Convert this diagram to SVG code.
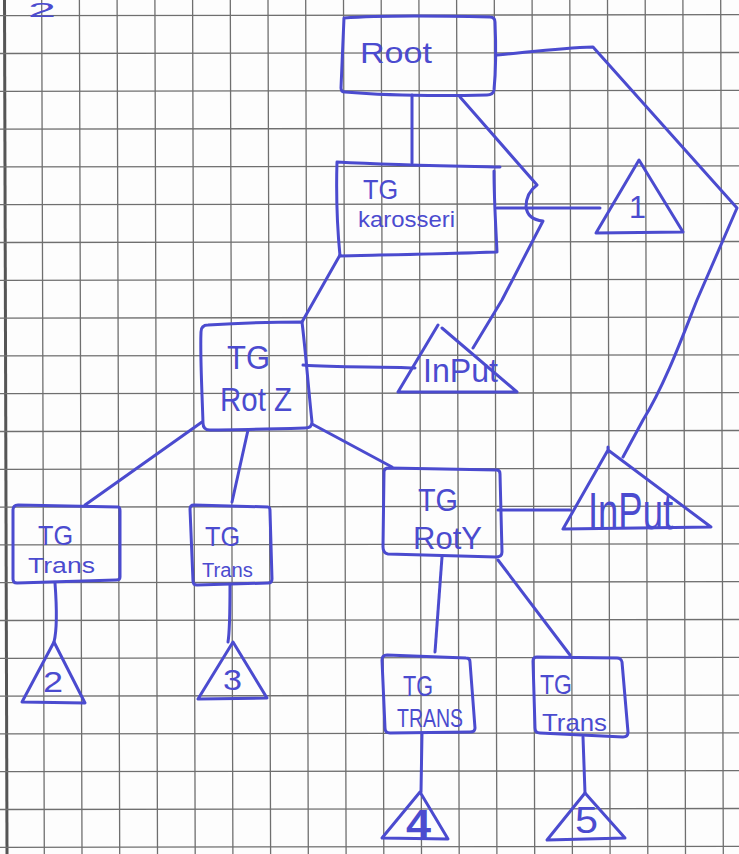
<svg xmlns="http://www.w3.org/2000/svg" width="739" height="854" viewBox="0 0 739 854">
<style>
.g{stroke:#6f6f6f;stroke-width:1.3;fill:none}
.ink{stroke:#4b4bcf;stroke-width:3;fill:none;stroke-linejoin:round;stroke-linecap:round}
.t{fill:#4b4bcf;font-family:"Liberation Sans","DejaVu Sans",sans-serif}
</style>
<rect width="739" height="854" fill="#fdfdfd"/>
<g id="grid">
<line x1="4.5" y1="0" x2="7" y2="854" stroke="#555" stroke-width="3"/>
<path class="g" d="M41.7,0L44.3,854M79.4,0L82,854M117.1,0L119.7,854M154.9,0L157.5,854M192.6,0L195.2,854M230.3,0L232.9,854M268,0L270.6,854M305.7,0L308.3,854M343.5,0L346.1,854M381.2,0L383.8,854M418.9,0L421.5,854M456.6,0L459.2,854M494.3,0L496.9,854M532.1,0L534.7,854M569.8,0L572.4,854M607.5,0L610.1,854M645.2,0L647.8,854M682.9,0L685.5,854M720.7,0L723.3,854"/>
<path class="g" d="M0,15.7L739,14.7M0,53.5L739,52.5M0,91.3L739,90.3M0,129.1L739,128.1M0,166.9L739,165.9M0,204.7L739,203.7M0,242.5L739,241.5M0,280.3L739,279.3M0,318.1L739,317.1M0,355.9L739,354.9M0,393.7L739,392.7M0,431.5L739,430.5M0,469.3L739,468.3M0,507.1L739,506.1M0,544.9L739,543.9M0,582.7L739,581.7M0,620.5L739,619.5M0,658.3L739,657.3M0,696.1L739,695.1M0,733.9L739,732.9M0,771.7L739,770.7M0,809.5L739,808.5M0,847.3L739,846.3"/>
</g>
<text class="t" x="28" y="17" font-size="20" textLength="28" lengthAdjust="spacingAndGlyphs">2</text>
<g id="connectors" class="ink">
<path d="M412,95 L412,163"/>
<path d="M497,55 C530,52 560,48 593,47 L737,208 L697,300 C685,330 665,385 643,420 L623,457"/>
<path d="M460,97 L537,185 C530,190 526,198 526,207 C527,215 533,220 543,221 L502,300 L473,348"/>
<path d="M497,208 L600,208"/>
<path d="M340,255 L302,322"/>
<path d="M303,365 C340,368 380,366 415,368"/>
<path d="M202,422 L85,505"/>
<path d="M248,430 L232,502"/>
<path d="M312,424 L392,467"/>
<path d="M498,510 L570,510"/>
<path d="M442,557 L435,652"/>
<path d="M498,560 L570,655"/>
<path d="M55,583 C57,610 57,630 54,642"/>
<path d="M230,585 C230,610 230,630 228,642"/>
<path d="M422,733 L421,792"/>
<path d="M583,737 L585,793"/>
</g>
<g id="root">
<path class="ink" d="M344,18 C380,15 450,16 490,17 Q495,17 495,22 C496,45 496,70 494,90 Q493,95 487,95 C440,96 380,95 345,92 Q341,92 341,88 C342,65 343,40 344,18 Z"/>
<text class="t" x="360" y="63" font-size="30" textLength="72" lengthAdjust="spacingAndGlyphs">Root</text>
</g>
<g id="tg-karosseri">
<path class="ink" d="M337,162 C390,165 450,166 500,167 M494,171 C494,200 496,230 497,252 C440,254 380,255 340,256 C337,225 336,195 337,162"/>
<text class="t" x="363" y="199" font-size="28" textLength="35" lengthAdjust="spacingAndGlyphs">TG</text>
<text class="t" x="358" y="227" font-size="22" textLength="97" lengthAdjust="spacingAndGlyphs">karosseri</text>
</g>
<g id="tri-1">
<path class="ink" d="M639,160 L596,233 L683,232 Z"/>
<text class="t" x="629" y="218" font-size="32" textLength="17" lengthAdjust="spacingAndGlyphs">1</text>
</g>
<g id="tg-rotz">
<path class="ink" d="M208,325 C240,323 275,322 302,322 C306,355 309,395 312,422 Q312,428 305,428 C270,429 235,430 210,430 Q203,430 203,423 C202,390 200,355 201,332 Q201,325 208,325 Z"/>
<text class="t" x="227" y="369" font-size="34" textLength="43" lengthAdjust="spacingAndGlyphs">TG</text>
<text class="t" x="220" y="411" font-size="34" textLength="72" lengthAdjust="spacingAndGlyphs">Rot Z</text>
</g>
<g id="input-1">
<path class="ink" d="M438,325 L398,392 L517,392 M442,328 L517,392"/>
<text class="t" x="423" y="382" font-size="34" textLength="75" lengthAdjust="spacingAndGlyphs">InPut</text>
</g>
<g id="tg-trans-1">
<path class="ink" d="M18,505 L118,507 Q120,507 120,511 L120,577 Q120,580 116,580 L17,583 Q13,583 13,579 L13,510 Q13,505 18,505 Z"/>
<text class="t" x="38" y="545" font-size="28" textLength="35" lengthAdjust="spacingAndGlyphs">TG</text>
<text class="t" x="28" y="573" font-size="22" textLength="67" lengthAdjust="spacingAndGlyphs">Trans</text>
</g>
<g id="tg-trans-2">
<path class="ink" d="M194,505 L268,507 Q270,507 270,511 L272,579 Q272,583 268,583 L197,585 Q193,585 193,581 L190,509 Q190,505 194,505 Z"/>
<text class="t" x="205" y="546" font-size="28" textLength="35" lengthAdjust="spacingAndGlyphs">TG</text>
<text class="t" x="202" y="577" font-size="20" textLength="51" lengthAdjust="spacingAndGlyphs">Trans</text>
</g>
<g id="tri-2">
<path class="ink" d="M54,642 L22,702 L85,703 Z"/>
<text class="t" x="43" y="692" font-size="30" textLength="20" lengthAdjust="spacingAndGlyphs">2</text>
</g>
<g id="tri-3">
<path class="ink" d="M233,642 L198,699 L267,698 Z"/>
<text class="t" x="223" y="690" font-size="30" textLength="19" lengthAdjust="spacingAndGlyphs">3</text>
</g>
<g id="tg-roty">
<path class="ink" d="M389,468 L497,470 Q500,470 500,474 L502,552 Q502,557 496,557 L388,554 Q383,553 383,547 L384,472 Q384,468 389,468 Z"/>
<text class="t" x="418" y="511" font-size="32" textLength="40" lengthAdjust="spacingAndGlyphs">TG</text>
<text class="t" x="413" y="549" font-size="32" textLength="69" lengthAdjust="spacingAndGlyphs">RotY</text>
</g>
<g id="input-2">
<path class="ink" d="M608,447 L608,452 M608,450 L563,529 L711,527 L608,450"/>
<text class="t" x="588" y="529" font-size="52" textLength="85" lengthAdjust="spacingAndGlyphs">InPut</text>
</g>
<g id="tg-trans-3">
<path class="ink" d="M387,655 L466,658 Q470,658 470,662 L475,728 Q475,732 470,732 L390,733 Q385,733 385,728 L382,660 Q382,655 387,655 Z"/>
<text class="t" x="403" y="696" font-size="30" textLength="30" lengthAdjust="spacingAndGlyphs">TG</text>
<text class="t" x="397" y="727" font-size="26" textLength="66" lengthAdjust="spacingAndGlyphs">TRANS</text>
</g>
<g id="tg-trans-4">
<path class="ink" d="M537,657 L617,658 Q621,658 622,662 L628,732 Q628,737 623,737 L540,733 Q535,733 535,728 L533,661 Q533,657 537,657 Z"/>
<text class="t" x="540" y="694" font-size="28" textLength="32" lengthAdjust="spacingAndGlyphs">TG</text>
<text class="t" x="542" y="731" font-size="24" textLength="65" lengthAdjust="spacingAndGlyphs">Trans</text>
</g>
<g id="tri-4">
<path class="ink" d="M420,792 L382,838 L448,839 Z"/>
<text class="t" x="406" y="838" font-size="40" font-weight="bold" textLength="25" lengthAdjust="spacingAndGlyphs">4</text>
</g>
<g id="tri-5">
<path class="ink" d="M585,793 L547,840 L625,838 Z"/>
<text class="t" x="575" y="833" font-size="36" textLength="23" lengthAdjust="spacingAndGlyphs">5</text>
</g>
</svg>
